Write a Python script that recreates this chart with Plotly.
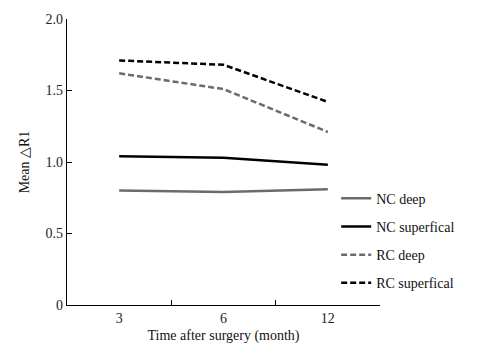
import plotly.graph_objects as go

months = ["3", "6", "12"]
nc_deep = [0.80, 0.79, 0.81]
nc_superficial = [1.04, 1.03, 0.98]
rc_deep = [1.62, 1.51, 1.21]
rc_superficial = [1.71, 1.68, 1.42]
y_ticks = [0, 0.5, 1.0, 1.5, 2.0]
y_tick_labels = ["0", "0.5", "1.0", "1.5", "2.0"]

series = [
    ("NC deep", nc_deep, "#6b6b6b", "solid"),
    ("NC superfical", nc_superficial, "#000000", "solid"),
    ("RC deep", rc_deep, "#6b6b6b", "6px,3px"),
    ("RC superfical", rc_superficial, "#000000", "6px,3px"),
]

fig = go.Figure()
for i, (name, vals, color, dash) in enumerate(series):
    fig.add_trace(go.Scatter(
        x=months, y=vals, name=name, mode="lines",
        line=dict(color=color, width=2.5, dash=dash),
        legendgroup=str(i),
    ))

font = "Liberation Serif"
fig.update_layout(
    width=492, height=353,
    margin=dict(l=67, r=112, t=12, b=43),
    paper_bgcolor="white", plot_bgcolor="white",
    font=dict(family=font, size=14, color="#222"),
    showlegend=True,
    legend=dict(x=0.86, y=0.225, xanchor="left", yanchor="middle",
                font=dict(family=font, size=14, color="#111"),
                traceorder="grouped", tracegroupgap=7,
                bgcolor="rgba(0,0,0,0)"),
    xaxis=dict(
        type="category", range=[-0.5, 2.5],
        showline=True, linecolor="black", linewidth=1.2,
        ticks="inside", ticklen=5, tickcolor="black", tickson="boundaries",
        showgrid=False, zeroline=False,
        title=dict(text="Time after surgery (month)", standoff=5,
                   font=dict(family=font, size=14, color="#111")),
        tickfont=dict(family=font, size=14, color="#222"),
    ),
    yaxis=dict(
        range=[0, 2.0],
        tickvals=y_ticks, ticktext=y_tick_labels,
        showline=True, linecolor="black", linewidth=1.2,
        ticks="inside", ticklen=5, tickcolor="black",
        showgrid=False, zeroline=False,
        title=dict(text="Mean △R1", standoff=12,
                   font=dict(family=font, size=14, color="#111")),
        tickfont=dict(family=font, size=14, color="#222"),
    ),
)

fig.write_html("out.html")
